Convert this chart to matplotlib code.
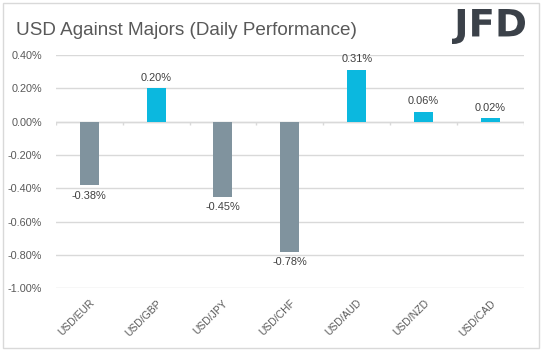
import matplotlib
matplotlib.use("Agg")
import matplotlib.pyplot as plt
from matplotlib.patches import Rectangle, PathPatch
from matplotlib.textpath import TextPath
from matplotlib.font_manager import FontProperties
from matplotlib.transforms import Affine2D, IdentityTransform

categories = ["USD/EUR", "USD/GBP", "USD/JPY", "USD/CHF", "USD/AUD", "USD/NZD", "USD/CAD"]
values = [-0.38, 0.20, -0.45, -0.78, 0.31, 0.06, 0.02]
yticks = [0.4, 0.2, 0.0, -0.2, -0.4, -0.6, -0.8, -1.0]

POS = "#0BB8DF"
NEG = "#80939E"
TXT = "#595959"
GRID = "#D9D9D9"

W, H = 543, 351
fig = plt.figure(figsize=(W / 100, H / 100), dpi=100)
plt.rcParams['font.family'] = ['Liberation Sans', 'DejaVu Sans']

# outer border
fig.patches.append(Rectangle((2.5 / W, 3 / H), (539 - 2.5) / W, (348 - 3) / H,
                             transform=fig.transFigure, fill=False,
                             edgecolor=GRID, linewidth=1))

left, right = 55.7 / W, 524 / W
top, bottom = 1 - 55 / H, 1 - 288.3 / H
ax = fig.add_axes([left, bottom, right - left, top - bottom])

x = list(range(len(categories)))
colors = [POS if v >= 0 else NEG for v in values]
ax.bar(x, values, width=0.285, color=colors, zorder=3)

ax.set_xlim(-0.5, len(categories) - 0.5)
ax.set_ylim(-1.0, 0.4)
ax.set_yticks(yticks)
ax.set_yticklabels([f"{t:.2f}%" for t in yticks], color=TXT, fontsize=7.8)
ax.yaxis.grid(True, color=GRID, linewidth=1, zorder=0)
ax.tick_params(axis='y', length=0, pad=10)

ax.set_xticks(x)
ax.set_xticklabels(categories, rotation=45, ha='right', rotation_mode='anchor',
                   color=TXT, fontsize=7.5)
ax.tick_params(axis='x', length=0, pad=7)
for s in ax.spines.values():
    s.set_visible(False)

# zero axis line with boundary ticks
ax.axhline(0, color=GRID, linewidth=1, zorder=2)
bounds = [i - 0.5 for i in range(len(categories) + 1)]
ax.vlines(bounds, -0.02, 0, color=GRID, linewidth=1, zorder=2)

for xi, v in zip(x, values):
    if v >= 0:
        ax.annotate(f"{v:.2f}%", (xi, v), xytext=(0, 4), textcoords='offset points',
                    ha='center', va='bottom', fontsize=7.9, color="#404040")
    else:
        ax.annotate(f"{v:.2f}%", (xi, v), xytext=(0, -4), textcoords='offset points',
                    ha='center', va='top', fontsize=7.9, color="#404040")

fig.text(16 / W, 1 - 35 / H, "USD Against Majors (Daily Performance)",
         fontsize=13.6, color=TXT, ha='left', va='baseline')

# logo
tp = TextPath((0, 0), "JFD", prop=FontProperties(family='DejaVu Sans', weight='bold'))
ext = tp.get_extents()
x0, x1, y0, y1 = 452, 525, H - 44, H - 9
tr = (Affine2D().translate(-ext.x0, -ext.y0)
      .scale((x1 - x0) / ext.width, (y1 - y0) / ext.height)
      .translate(x0, y0))
fig.patches.append(PathPatch(tr.transform_path(tp), transform=IdentityTransform(),
                             facecolor="#3B4149", edgecolor='none'))

fig.savefig("out.png", dpi=100)
